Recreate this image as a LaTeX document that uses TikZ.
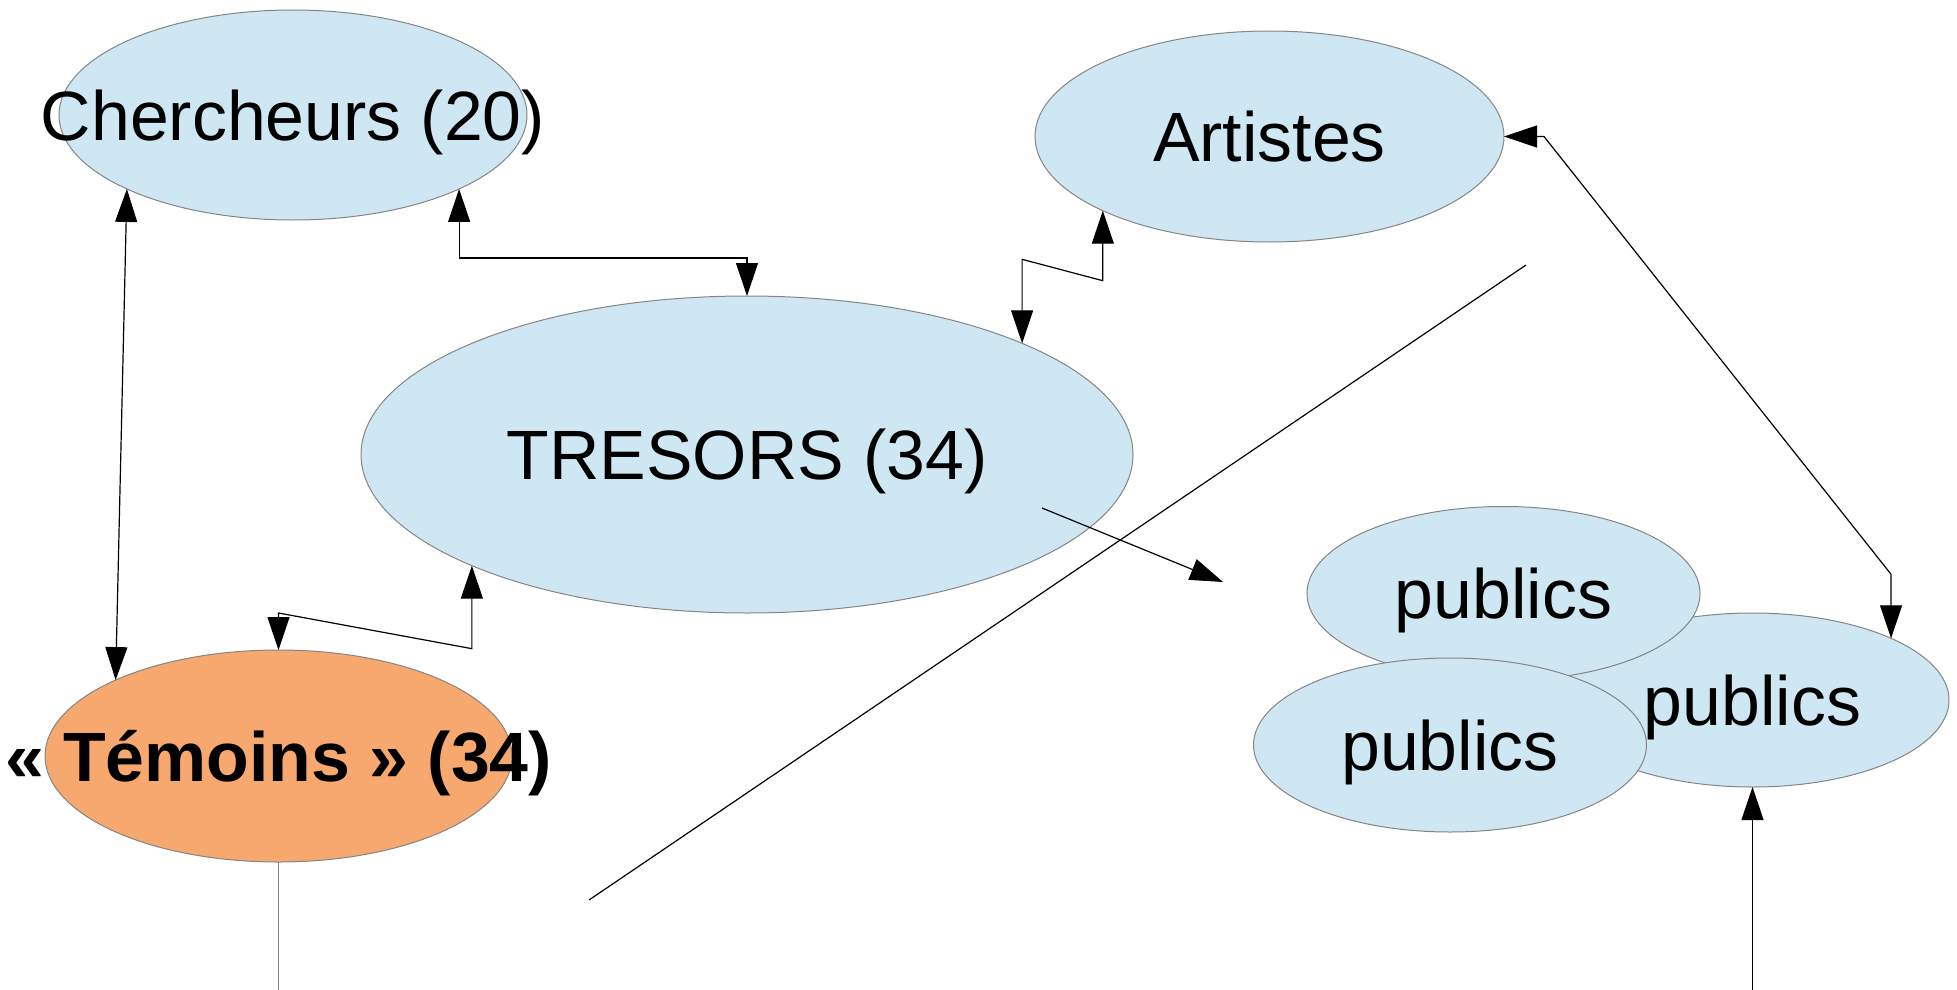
\documentclass[tikz,border=0pt]{standalone}
\usepackage{fontspec}
\setmainfont{Liberation Sans}
\usetikzlibrary{arrows.meta,calc,shapes.geometric}
\definecolor{blobblue}{HTML}{CFE6F3}
\definecolor{bloborange}{HTML}{F7A86F}
\definecolor{rimgray}{HTML}{858585}
\begin{document}
\begin{tikzpicture}[x=1pt,y=-1pt,
  >={Triangle[length=33pt,width=22pt]},
  blob/.style={ellipse, draw=rimgray, line width=1pt, fill=blobblue, inner sep=0pt, outer sep=0pt},
  lbl/.style={inner sep=0pt, font=\fontsize{69.8}{80}\selectfont, text height=50pt, text depth=0pt},
  wire/.style={draw=black, line width=1.2pt},
  greywire/.style={draw=rimgray, line width=1.2pt},
]
\useasboundingbox (0,0) rectangle (1957,990);
% ellipses
\node[blob, minimum width=468pt, minimum height=210pt] (ch) at (293,115) {};
\node[blob, minimum width=469pt, minimum height=211pt] (ar) at (1269.5,136.5) {};
\node[blob, minimum width=772pt, minimum height=317pt] (tr) at (747,454.5) {};
\node[blob, fill=bloborange, minimum width=467pt, minimum height=212pt] (tm) at (278.5,756) {};
\node[blob, minimum width=393pt, minimum height=174pt] (pr) at (1752.5,700) {};
\node[blob, minimum width=393pt, minimum height=174pt] (pt) at (1503.5,593.5) {};
\node[blob, minimum width=393pt, minimum height=174pt] (pl) at (1450,745) {};
% labels
\node[lbl] (tch) at (ch) {Chercheurs (20)};
\node[lbl] (tar) at (ar) {Artistes};
\node[lbl] (ttr) at (tr) {TRESORS (34)};
\node[lbl, font=\fontsize{69.8}{80}\selectfont\bfseries] (ttm) at (tm) {« Témoins » (34)};
\node[lbl] (tpt) at (pt) {publics};
\node[lbl] (tpr) at (pr) {publics};
\node[lbl] (tpl) at (pl) {publics};
% free coordinates
\coordinate (d1) at (589,900);
\coordinate (d2) at (1526,265);
\coordinate (f1) at (1042,508);
\coordinate (f2) at (1223,582);
\coordinate (b2) at (1752.5,990);
% connectors
\draw[wire,<->] (ch.204.4) -- (tm.155.6);
\draw[wire,<->] (ch.336.1) -- ++(0,69) -| (tr.north);
\draw[wire,<->] (tr.22.3) -- ++(0,-84) -- ($(ar.204.1)+(0,70)$) -- (ar.204.1);
\draw[wire,<->] (tm.north) -- ++(0,-37) -- ($(tr.202.4)+(0,83)$) -- (tr.202.4);
\draw[wire,<->] (ar.east) -- ++(40,0) -- ($(pr.24)+(0,-64)$) -- (pr.24);
\draw[wire,->] (b2) -- (pr.south);
\draw[greywire] (tm.south) -- ++(0,128);
\draw[wire] (d1) -- (d2);
\draw[wire,->] (f1) -- (f2);
\end{tikzpicture}
\end{document}
